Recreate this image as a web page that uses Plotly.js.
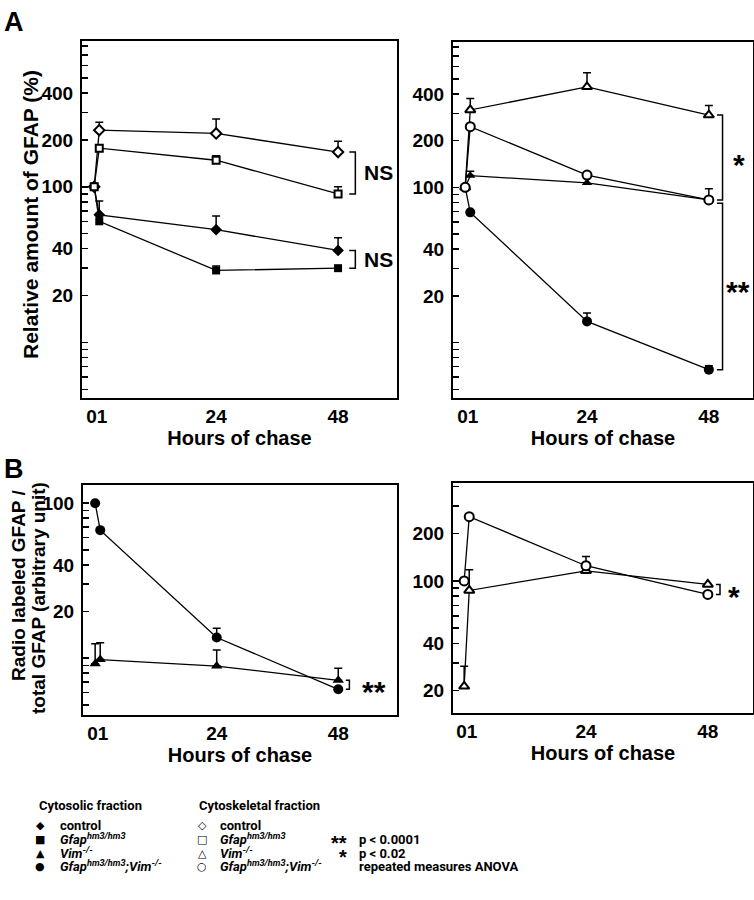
<!DOCTYPE html>
<html>
<head>
<meta charset="utf-8">
<script src="https://cdn.plot.ly/plotly-3.0.1.min.js"></script>
<style>html,body{margin:0;padding:0;background:#fff;}#chart{width:754px;height:900px;}</style>
</head>
<body>
<div id="chart"></div>
<script>
// ---------- data ----------
const hours = [0, 1, 24, 48];
const hourTickVals = [0.5, 24, 48];
const hourTickText = ['01', '24', '48'];

// Panel A – left (control and Gfap hm3/hm3)
const aCytoControl = [100, 66, 53, 39];
const aCytoControlErr = [0, 15, 12, 8];
const aCytoGfap = [100, 60, 29, 30];
const aCytoGfapErr = [0, 0, 2, 0];
const aSkelControl = [100, 231, 220, 167];
const aSkelControlErr = [0, 29, 52, 29];
const aSkelGfap = [100, 177, 148, 90];
const aSkelGfapErr = [0, 0, 10, 10];

// Panel A – right (Vim-/- and Gfap hm3/hm3;Vim-/-)
const aCytoVim = [100, 119, 107, 83];
const aCytoVimErr = [0, 8, 0, 0];
const aCytoGV = [100, 69, 13.7, 6.7];
const aCytoGVErr = [0, 0, 1.8, 0.4];
const aSkelVim = [100, 315, 444, 292];
const aSkelVimErr = [0, 58, 104, 44];
const aSkelGV = [100, 246, 120, 83];
const aSkelGVErr = [0, 0, 0, 15];

// Panel B – left (cytosolic)
const bCytoGV = [100, 67, 13.6, 6.3];
const bCytoGVErr = [0, 0, 2, 0];
const bCytoVim = [9.2, 9.8, 8.9, 7.2];
const bCytoVimErr = [3.2, 2.8, 2.4, 1.4];

// Panel B – right (cytoskeletal)
const bSkelGV = [100, 257, 125, 82];
const bSkelGVErr = [0, 0, 18, 0];
const bSkelVim = [21.3, 87, 116, 95];
const bSkelVimErr = [7.3, 31, 0, 0];

// log-axis ticks
const logTicks = [5, 6, 7, 8, 9, 10, 20, 30, 40, 50, 60, 70, 80, 90, 100, 200, 300, 400, 500, 600, 700, 800, 900];
const labelsA = [20, 40, 100, 200, 400];
const labelsBLeft = [20, 40, 100];
const labelsBRight = [20, 40, 100, 200];

// titles
const xTitle = 'Hours of chase';
const yTitleA = 'Relative amount of GFAP (%)';
const yTitleB = ['Radio labeled GFAP /', 'total GFAP (arbitrary unit)'];

// legend texts
const cytoHeading = 'Cytosolic fraction';
const skelHeading = 'Cytoskeletal fraction';
const genotypeLabels = [
  'control',
  '<i>Gfap</i><sup><i>hm3/hm3</i></sup>',
  '<i>Vim</i><sup><i>-/-</i></sup>',
  '<i>Gfap</i><sup><i>hm3/hm3</i></sup><i>;Vim</i><sup><i>-/-</i></sup>'
];
const cytoGlyphs = ['\u25C6', '\u25A0', '\u25B2', '\u25CF'];
const skelGlyphs = ['\u25C7', '\u25A1', '\u25B3', '\u25CB'];
const statStars = ['**', '*', ''];
const statTexts = ['p &lt; 0.0001', 'p &lt; 0.02', 'repeated measures ANOVA'];

// ---------- styling ----------
const FONT = 'Liberation Sans, Arial, Helvetica, sans-serif';
const LEGFONT = 'Roboto, Liberation Sans, sans-serif';
const W = 754, H = 900;
const px = v => v / W;
const py = v => 1 - v / H;

function series(xa, ya, y, err, symbol, filled, size) {
  return {
    type: 'scatter', mode: 'lines+markers', x: hours, y: y,
    xaxis: xa, yaxis: ya, showlegend: false, hoverinfo: 'skip', cliponaxis: false,
    line: {color: 'black', width: 1.3},
    marker: {symbol: symbol, size: size, color: filled ? 'black' : 'white',
             line: {color: 'black', width: filled ? 0 : 2}},
    error_y: {type: 'data', symmetric: false,
              array: err.map(e => e > 0 ? e : NaN),
              arrayminus: err.map(e => e > 0 ? 0 : NaN),
              color: 'black', thickness: 1.5, width: 4}
  };
}

function bracket(xa, ya, xv, hook, yTop, yBot) {
  return {
    type: 'scatter', mode: 'lines', xaxis: xa, yaxis: ya, showlegend: false, hoverinfo: 'skip',
    cliponaxis: false,
    x: [xv - hook, xv, xv, xv - hook], y: [yTop, yTop, yBot, yBot],
    line: {color: 'black', width: 1.5}
  };
}

const traces = [
  // A left
  series('x', 'y', aCytoControl, aCytoControlErr, 'diamond', true, 9),
  series('x', 'y', aCytoGfap, aCytoGfapErr, 'square', true, 8),
  series('x', 'y', aSkelControl, aSkelControlErr, 'diamond', false, 8),
  series('x', 'y', aSkelGfap, aSkelGfapErr, 'square', false, 7),
  bracket('x', 'y', 51.4, 1.2, aSkelControl[3], aSkelGfap[3]),
  bracket('x', 'y', 51.4, 1.2, aCytoControl[3], aCytoGfap[3]),
  // A right
  series('x2', 'y2', aCytoVim, aCytoVimErr, 'triangle-up', true, 9),
  series('x2', 'y2', aCytoGV, aCytoGVErr, 'circle', true, 10),
  series('x2', 'y2', aSkelVim, aSkelVimErr, 'triangle-up', false, 9),
  series('x2', 'y2', aSkelGV, aSkelGVErr, 'circle', false, 9),
  bracket('x2', 'y2', 50.7, 1.1, aSkelVim[3], aSkelGV[3]),
  bracket('x2', 'y2', 50.7, 1.1, aCytoVim[3] * 0.95, aCytoGV[3]),
  // B left
  series('x3', 'y3', bCytoVim, bCytoVimErr, 'triangle-up', true, 10),
  series('x3', 'y3', bCytoGV, bCytoGVErr, 'circle', true, 10),
  bracket('x3', 'y3', 50.2, 0.7, bCytoVim[3], bCytoGV[3]),
  // B right
  series('x4', 'y4', bSkelVim, bSkelVimErr, 'triangle-up', false, 9),
  series('x4', 'y4', bSkelGV, bSkelGVErr, 'circle', false, 9),
  bracket('x4', 'y4', 50.4, 0.8, bSkelVim[3], bSkelGV[3])
];

const tickFont = {family: FONT, size: 19, color: 'black', weight: 'bold'};
const titleFont = {family: FONT, size: 20, color: 'black', weight: 'bold'};

function xAxis(domain, anchor, range) {
  return {
    domain: domain, anchor: anchor, range: range,
    showline: true, mirror: true, linecolor: 'black', linewidth: 2,
    showgrid: false, zeroline: false, ticks: '',
    tickmode: 'array', tickvals: hourTickVals, ticktext: hourTickText,
    tickfont: tickFont, ticklabelstandoff: 0,
    title: {text: xTitle, font: titleFont, standoff: 0}
  };
}

function yAxis(domain, anchor, lo, hi, labels) {
  const vals = logTicks.filter(v => v >= lo && v <= hi);
  return {
    domain: domain, anchor: anchor, type: 'log',
    range: [Math.log10(lo), Math.log10(hi)],
    showline: true, mirror: true, linecolor: 'black', linewidth: 2,
    showgrid: false, zeroline: false,
    ticks: 'inside', ticklen: 6, tickwidth: 1.5, tickcolor: 'black',
    tickmode: 'array', tickvals: vals,
    ticktext: vals.map(v => labels.includes(v) ? String(v) : ''),
    tickfont: tickFont, ticklabelstandoff: 3
  };
}

function note(xref, yref, x, yVal, text, size, opts) {
  return Object.assign({
    xref: xref, yref: yref, x: x, y: Math.log10(yVal), text: text, showarrow: false,
    font: {family: FONT, size: size, color: 'black', weight: 'bold'},
    xanchor: 'center', yanchor: 'middle'
  }, opts || {});
}

function paperText(x, y, text, size, opts) {
  return Object.assign({xref: 'paper', yref: 'paper', x: px(x), y: py(y), text: text, showarrow: false,
    xanchor: 'center', yanchor: 'middle', font: {family: FONT, size: size, color: 'black', weight: 'bold'}}, opts || {});
}

const annotations = [
  paperText(2, 5, 'A', 27, {xanchor: 'left', yanchor: 'top'}),
  paperText(2, 452, 'B', 27, {xanchor: 'left', yanchor: 'top'}),
  paperText(30, 215, yTitleA, 21, {textangle: -90}),
  paperText(18, 586, yTitleB[0], 19, {textangle: -90}),
  paperText(38, 598, yTitleB[1], 19, {textangle: -90}),
  note('x', 'y', 52.8, Math.sqrt(aSkelControl[3] * aSkelGfap[3]), 'NS', 21, {xanchor: 'left'}),
  note('x', 'y', 52.8, Math.sqrt(aCytoControl[3] * aCytoGfap[3]), 'NS', 21, {xanchor: 'left'}),
  note('x2', 'y2', 53.9, Math.sqrt(aSkelVim[3] * aSkelGV[3]), '*', 30, {yshift: -7}),
  note('x2', 'y2', 53.7, Math.sqrt(aCytoVim[3] * aCytoGV[3]), '**', 30, {yshift: -7}),
  note('x3', 'y3', 55, Math.sqrt(bCytoVim[3] * bCytoGV[3]), '**', 30, {yshift: -7}),
  note('x4', 'y4', 53.1, Math.sqrt(bSkelVim[3] * bSkelGV[3]), '*', 30, {yshift: -7})
];

// legend block (text rows anchored at their bottom so superscripts do not shift the baseline)
const legendRows = [825, 839, 853, 866];
const LEG_SIZE = 13;
function legText(x, rowY, text, opts) {
  return Object.assign({xref: 'paper', yref: 'paper', x: px(x), y: py(rowY + 10), text: text, showarrow: false,
    xanchor: 'left', yanchor: 'bottom', font: {family: LEGFONT, size: LEG_SIZE, color: 'black', weight: 'bold'}}, opts || {});
}
function glyph(x, rowY, g) {
  return {xref: 'paper', yref: 'paper', x: px(x), y: py(rowY), text: g, showarrow: false,
    xanchor: 'center', yanchor: 'middle', font: {family: 'DejaVu Sans', size: 11, color: 'black', weight: 'bold'}};
}
annotations.push(legText(37, 805, cytoHeading));
annotations.push(legText(197, 805, skelHeading));
genotypeLabels.forEach((lab, i) => {
  annotations.push(glyph(40, legendRows[i], cytoGlyphs[i]));
  annotations.push(legText(58, legendRows[i], lab));
  annotations.push(glyph(202, legendRows[i], skelGlyphs[i]));
  annotations.push(legText(218, legendRows[i], lab));
});
statTexts.forEach((t, i) => {
  const row = legendRows[i + 1];
  if (statStars[i]) annotations.push(paperText(349, row, statStars[i], 20,
    {xanchor: 'right', yshift: -4}));
  annotations.push(legText(357, row, t));
});

const layout = {
  width: W, height: H,
  margin: {l: 0, r: 0, t: 0, b: 0},
  paper_bgcolor: 'white', plot_bgcolor: 'white',
  showlegend: false,
  xaxis: xAxis([px(82), px(397)], 'y', [-2.4, 59.6]),
  yaxis: yAxis([py(398), py(41)], 'x', 4.4, 863, labelsA),
  xaxis2: xAxis([px(453), px(753)], 'y2', [-2.4, 56.7]),
  yaxis2: yAxis([py(398), py(42)], 'x2', 4.4, 863, labelsA),
  xaxis3: xAxis([px(83), px(397)], 'y3', [-2.4, 59.6]),
  yaxis3: yAxis([py(715), py(485)], 'x3', 4.3, 131, labelsBLeft),
  xaxis4: xAxis([px(453), px(753)], 'y4', [-2.2, 56.9]),
  yaxis4: yAxis([py(713), py(483)], 'x4', 14.4, 421, labelsBRight),
  annotations: annotations
};

Plotly.newPlot('chart', traces, layout, {staticPlot: true, displayModeBar: false});
</script>
</body>
</html>
